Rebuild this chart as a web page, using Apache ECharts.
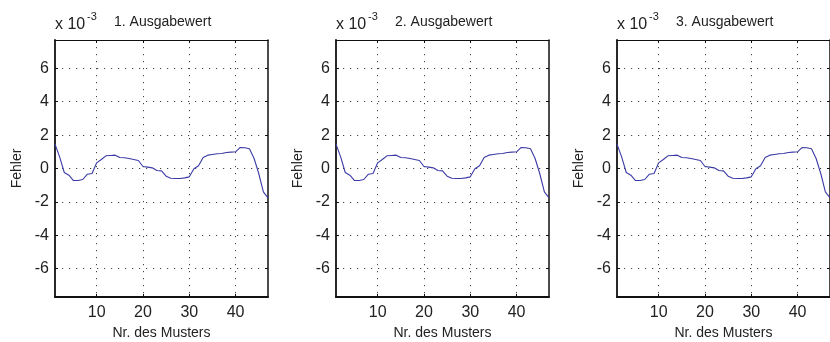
<!DOCTYPE html>
<html>
<head>
<meta charset="utf-8">
<script src="https://cdn.jsdelivr.net/npm/echarts@6/dist/echarts.min.js"></script>
<style>html,body{margin:0;padding:0;background:#fff}#c{width:830px;height:342px}</style>
</head>
<body>
<div id="c"></div>
<script>
// Data (errors in units of 1e-3)
const patternNr = [];
for (let i = 1; i <= 47; i++) patternNr.push(i);
const out1 = [1.46,0.70,-0.24,-0.40,-0.72,-0.72,-0.66,-0.34,-0.30,0.34,0.54,0.76,0.78,0.80,0.66,0.64,0.60,0.54,0.48,0.12,0.08,0.04,-0.12,-0.14,-0.46,-0.58,-0.60,-0.60,-0.56,-0.50,-0.02,0.16,0.66,0.80,0.84,0.88,0.90,0.96,0.98,1.00,1.26,1.24,1.18,0.60,-0.30,-1.40,-1.76];
const out2 = [1.46,0.70,-0.24,-0.40,-0.72,-0.72,-0.66,-0.34,-0.30,0.34,0.54,0.76,0.78,0.80,0.66,0.64,0.60,0.54,0.48,0.12,0.08,0.04,-0.12,-0.14,-0.46,-0.58,-0.60,-0.60,-0.56,-0.50,-0.02,0.16,0.66,0.80,0.84,0.88,0.90,0.96,0.98,1.00,1.26,1.24,1.18,0.60,-0.30,-1.40,-1.76];
const out3 = [1.46,0.70,-0.24,-0.40,-0.72,-0.72,-0.66,-0.34,-0.30,0.34,0.54,0.76,0.78,0.80,0.66,0.64,0.60,0.54,0.48,0.12,0.08,0.04,-0.12,-0.14,-0.46,-0.58,-0.60,-0.60,-0.56,-0.50,-0.02,0.16,0.66,0.80,0.84,0.88,0.90,0.96,0.98,1.00,1.26,1.24,1.18,0.60,-0.30,-1.40,-1.76];
const seriesList = [out1, out2, out3];
const panelTitles = ['1. Ausgabewert', '2. Ausgabewert', '3. Ausgabewert'];
const xTicks = [10, 20, 30, 40];
const yTicks = [-6, -4, -2, 0, 2, 4, 6];
const xLabel = 'Nr. des Musters';
const yLabel = 'Fehler';
const scaleLabel = 'x 10';
const scaleExp = '-3';

const FONT = '"Liberation Sans", Arial, Helvetica, sans-serif';
const lefts = [55, 336, 617];
const gridTop = 40, gridW = 213, gridH = 257;
const XMIN = 1, XMAX = 47, YMIN = -7.7, YMAX = 7.7;
const dotted = {color: '#444', width: 1, type: [1.2, 5.8]};

const grids = [], xAxes = [], yAxes = [], series = [], graphics = [];
lefts.forEach((l, i) => {
  grids.push({left: l, top: gridTop, width: gridW, height: gridH, containLabel: false, outerBoundsMode: 'none'});
  xAxes.push({
    type: 'value', gridIndex: i, min: XMIN, max: XMAX, position: 'bottom',
    axisLine: {show: true, onZero: false, lineStyle: {color: '#111', width: 1.8}},
    axisTick: {show: true, inside: true, length: 3, customValues: xTicks, lineStyle: {color: '#111'}},
    axisLabel: {customValues: xTicks, fontFamily: FONT, fontSize: 16, color: '#222', margin: 8},
    splitLine: {show: true, lineStyle: dotted},
    name: xLabel, nameLocation: 'middle', nameGap: 29,
    nameTextStyle: {fontFamily: FONT, fontSize: 14, color: '#222'}
  });
  xAxes.push({
    type: 'value', gridIndex: i, min: XMIN, max: XMAX, position: 'top',
    axisLine: {show: true, onZero: false, lineStyle: {color: '#111', width: 1.2}},
    axisTick: {show: true, inside: true, length: 3, customValues: xTicks, lineStyle: {color: '#111'}},
    axisLabel: {show: false}, splitLine: {show: false}
  });
  yAxes.push({
    type: 'value', gridIndex: i, min: YMIN, max: YMAX, position: 'left',
    axisLine: {show: true, onZero: false, lineStyle: {color: '#111', width: 1.8}},
    axisTick: {show: true, inside: true, length: 3, customValues: yTicks, lineStyle: {color: '#111'}},
    axisLabel: {customValues: yTicks, fontFamily: FONT, fontSize: 16, color: '#222', margin: 6},
    splitLine: {show: true, lineStyle: dotted},
    name: yLabel, nameLocation: 'middle', nameGap: 31, nameRotate: 90,
    nameTextStyle: {fontFamily: FONT, fontSize: 14, color: '#222'}
  });
  yAxes.push({
    type: 'value', gridIndex: i, min: YMIN, max: YMAX, position: 'right',
    axisLine: {show: true, onZero: false, lineStyle: {color: '#111', width: 1.5}},
    axisTick: {show: true, inside: true, length: 3, customValues: yTicks, lineStyle: {color: '#111'}},
    axisLabel: {show: false}, splitLine: {show: false}
  });
  series.push({
    type: 'line', xAxisIndex: 2 * i, yAxisIndex: 2 * i,
    data: patternNr.map((x, k) => [x, seriesList[i][k]]),
    showSymbol: false, symbol: 'none', smooth: false,
    lineStyle: {color: '#3a3aa6', width: 1.1}, z: 5
  });
  graphics.push({
    type: 'text', x: l, y: 33,
    style: {text: scaleLabel, font: '16px ' + FONT, fill: '#222', textVerticalAlign: 'bottom', verticalAlign: 'bottom'}
  });
  graphics.push({
    type: 'text', x: l + 32, y: 22,
    style: {text: scaleExp, font: '11px ' + FONT, fill: '#222', textVerticalAlign: 'bottom', verticalAlign: 'bottom'}
  });
  graphics.push({
    type: 'text', x: l + 59, y: 29,
    style: {text: panelTitles[i], font: '14px ' + FONT, fill: '#222', textVerticalAlign: 'bottom', verticalAlign: 'bottom'}
  });
});

const chart = echarts.init(document.getElementById('c'), null, {renderer: 'canvas'});
chart.setOption({
  animation: false,
  backgroundColor: '#fff',
  grid: grids, xAxis: xAxes, yAxis: yAxes, series: series, graphic: graphics
});
</script>
</body>
</html>
